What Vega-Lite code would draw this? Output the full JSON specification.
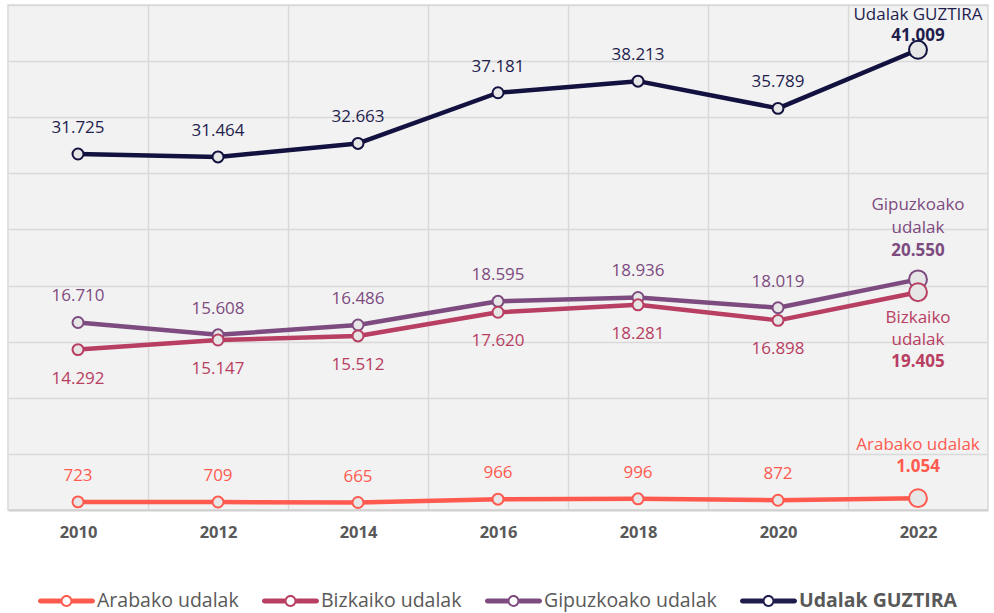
{
  "$schema": "https://vega.github.io/schema/vega-lite/v6.json",
  "width": 980,
  "height": 505,
  "autosize": {"type": "none"},
  "padding": {"left": 8, "top": 5, "right": 6, "bottom": 103},
  "background": "white",
  "config": {
    "locale": {"number": {"decimal": ",", "thousands": ".", "grouping": [3], "currency": ["", " €"]}},
    "view": {"fill": "#f2f2f2", "stroke": "#d9d9d9", "strokeWidth": 1.5},
    "font": "Open Sans",
    "text": {"font": "Open Sans", "fontSize": 17},
    "lineBreak": "\n"
  },
  "datasets": {
    "d": [
      {"year": 2010, "serie": "Udalak GUZTIRA", "value": 31725},
      {"year": 2012, "serie": "Udalak GUZTIRA", "value": 31464},
      {"year": 2014, "serie": "Udalak GUZTIRA", "value": 32663},
      {"year": 2016, "serie": "Udalak GUZTIRA", "value": 37181},
      {"year": 2018, "serie": "Udalak GUZTIRA", "value": 38213},
      {"year": 2020, "serie": "Udalak GUZTIRA", "value": 35789},
      {"year": 2022, "serie": "Udalak GUZTIRA", "value": 41009},
      {"year": 2010, "serie": "Gipuzkoako udalak", "value": 16710},
      {"year": 2012, "serie": "Gipuzkoako udalak", "value": 15608},
      {"year": 2014, "serie": "Gipuzkoako udalak", "value": 16486},
      {"year": 2016, "serie": "Gipuzkoako udalak", "value": 18595},
      {"year": 2018, "serie": "Gipuzkoako udalak", "value": 18936},
      {"year": 2020, "serie": "Gipuzkoako udalak", "value": 18019},
      {"year": 2022, "serie": "Gipuzkoako udalak", "value": 20550},
      {"year": 2010, "serie": "Bizkaiko udalak", "value": 14292},
      {"year": 2012, "serie": "Bizkaiko udalak", "value": 15147},
      {"year": 2014, "serie": "Bizkaiko udalak", "value": 15512},
      {"year": 2016, "serie": "Bizkaiko udalak", "value": 17620},
      {"year": 2018, "serie": "Bizkaiko udalak", "value": 18281},
      {"year": 2020, "serie": "Bizkaiko udalak", "value": 16898},
      {"year": 2022, "serie": "Bizkaiko udalak", "value": 19405},
      {"year": 2010, "serie": "Arabako udalak", "value": 723},
      {"year": 2012, "serie": "Arabako udalak", "value": 709},
      {"year": 2014, "serie": "Arabako udalak", "value": 665},
      {"year": 2016, "serie": "Arabako udalak", "value": 966},
      {"year": 2018, "serie": "Arabako udalak", "value": 996},
      {"year": 2020, "serie": "Arabako udalak", "value": 872},
      {"year": 2022, "serie": "Arabako udalak", "value": 1054}
    ],
    "ends": [
      {"year": 2022, "serie": "Udalak GUZTIRA", "value": 41009, "name": "Udalak GUZTIRA"},
      {"year": 2022, "serie": "Gipuzkoako udalak", "value": 20550, "name": "Gipuzkoako\nudalak"},
      {"year": 2022, "serie": "Bizkaiko udalak", "value": 19405, "name": "Bizkaiko\nudalak"},
      {"year": 2022, "serie": "Arabako udalak", "value": 1054, "name": "Arabako udalak"}
    ]
  },
  "data": {"name": "d"},
  "encoding": {
    "x": {
      "field": "year", "type": "quantitative",
      "scale": {"domain": [2009, 2023], "nice": false, "zero": false},
      "axis": {
        "values": [2010, 2011, 2012, 2013, 2014, 2015, 2016, 2017, 2018, 2019, 2020, 2021, 2022],
        "labelExpr": "datum.value % 2 === 0 ? '' + datum.value : ''",
        "grid": true,
        "gridColor": {"condition": {"test": "datum.value % 2 === 1", "value": "#d9d9d9"}, "value": "transparent"},
        "gridWidth": 1.5,
        "ticks": false,
        "domainColor": "#d0d0d0",
        "domainWidth": 2,
        "labelFontSize": 16.5,
        "labelFontWeight": "bold",
        "labelColor": "#595959",
        "labelPadding": 14,
        "labelFont": "Open Sans",
        "title": null
      }
    },
    "y": {
      "field": "value", "type": "quantitative",
      "scale": {"domain": [0, 45000], "nice": false},
      "axis": {
        "values": [5000, 10000, 15000, 20000, 25000, 30000, 35000, 40000, 45000],
        "grid": true, "gridColor": "#d9d9d9", "gridWidth": 1.5,
        "labels": false, "ticks": false, "domain": false, "title": null
      }
    }
  },
  "layer": [
    {
      "mark": {"type": "line", "strokeWidth": 4.5, "strokeCap": "round", "strokeJoin": "round"},
      "encoding": {
        "color": {
          "field": "serie", "type": "nominal",
          "scale": {"domain": ["Arabako udalak", "Bizkaiko udalak", "Gipuzkoako udalak", "Udalak GUZTIRA"], "range": ["#ff5a50", "#b83e62", "#7d4b7f", "#12113f"]},
          "sort": ["Arabako udalak", "Bizkaiko udalak", "Gipuzkoako udalak", "Udalak GUZTIRA"],
          "legend": {
            "orient": "none", "legendX": 30, "legendY": 567.5,
            "direction": "horizontal", "title": null,
            "symbolType": "M-0.2,-0.09H-0.91A0.09,0.09 0 0,0 -0.91,0.09H-0.2Z M0.91,-0.09H0.2V0.09H0.91A0.09,0.09 0 0,0 0.91,-0.09Z M0.21,0A0.21,0.21 0 1,0 -0.21,0A0.21,0.21 0 1,0 0.21,0Z M0.14,0A0.14,0.14 0 1,1 -0.14,0A0.14,0.14 0 1,1 0.14,0Z",
            "symbolSize": 3249,
            "symbolStrokeWidth": 0,
            "labelFontSize": 19.5,
            "labelColor": "#595959",
            "labelFont": "Open Sans",
            "labelOffset": 2,
            "labelLimit": 400,
            "gridAlign": "none",
            "columnPadding": 22,
            "padding": 0,
            "encode": {
              "symbols": {"update": {"fill": {"scale": "color", "field": "value"}, "stroke": {"value": "transparent"}, "opacity": {"value": 1}}},
              "labels": {"update": {"fontWeight": {"signal": "datum.value === 'Udalak GUZTIRA' ? 'bold' : 'normal'"}}}
            }
          }
        }
      }
    },
    {
      "mark": {"type": "point", "filled": true, "fill": "#e6e6e6", "strokeWidth": 2, "opacity": 1},
      "encoding": {
        "stroke": {
          "field": "serie", "type": "nominal",
          "scale": {"domain": ["Arabako udalak", "Bizkaiko udalak", "Gipuzkoako udalak", "Udalak GUZTIRA"], "range": ["#ff5a50", "#b83e62", "#7d4b7f", "#12113f"]},
          "legend": null
        },
        "size": {"condition": {"test": "datum.year === 2022", "value": 320}, "value": 120}
      }
    },
    {
      "transform": [{"filter": "datum.year < 2022 && datum.serie !== 'Bizkaiko udalak'"}],
      "mark": {"type": "text", "dy": -26, "fontSize": 17},
      "encoding": {
        "text": {"field": "value", "type": "quantitative", "format": ",d"},
        "fill": {
          "field": "serie", "type": "nominal",
          "scale": {"domain": ["Arabako udalak", "Bizkaiko udalak", "Gipuzkoako udalak", "Udalak GUZTIRA"], "range": ["#ff5a50", "#b83e62", "#7d4b7f", "#1f1d4d"]},
          "legend": null
        }
      }
    },
    {
      "transform": [{"filter": "datum.year < 2022 && datum.serie === 'Bizkaiko udalak'"}],
      "mark": {"type": "text", "dy": 29, "fontSize": 17, "fill": "#b83e62"},
      "encoding": {
        "text": {"field": "value", "type": "quantitative", "format": ",d"}
      }
    },
    {
      "transform": [{"filter": "datum.year === 2022 && datum.serie === 'Udalak GUZTIRA'"}],
      "mark": {"type": "text", "dy": -14, "fontSize": 17, "fontWeight": "bold", "fill": "#1f1d4d"},
      "encoding": {"text": {"field": "value", "type": "quantitative", "format": ",d"}}
    },
    {
      "transform": [{"filter": "datum.year === 2022 && datum.serie === 'Gipuzkoako udalak'"}],
      "mark": {"type": "text", "dy": -28, "fontSize": 17, "fontWeight": "bold", "fill": "#7d4b7f"},
      "encoding": {"text": {"field": "value", "type": "quantitative", "format": ",d"}}
    },
    {
      "transform": [{"filter": "datum.year === 2022 && datum.serie === 'Bizkaiko udalak'"}],
      "mark": {"type": "text", "dy": 70, "fontSize": 17, "fontWeight": "bold", "fill": "#b83e62"},
      "encoding": {"text": {"field": "value", "type": "quantitative", "format": ",d"}}
    },
    {
      "transform": [{"filter": "datum.year === 2022 && datum.serie === 'Arabako udalak'"}],
      "mark": {"type": "text", "dy": -31, "fontSize": 17, "fontWeight": "bold", "fill": "#ff5a50"},
      "encoding": {"text": {"field": "value", "type": "quantitative", "format": ",d"}}
    },
    {
      "data": {"name": "ends"},
      "transform": [{"filter": "datum.serie === 'Udalak GUZTIRA'"}],
      "mark": {"type": "text", "dy": -35, "fontSize": 17, "fill": "#1f1d4d"},
      "encoding": {"text": {"field": "name", "type": "nominal"}}
    },
    {
      "data": {"name": "ends"},
      "transform": [{"filter": "datum.serie === 'Gipuzkoako udalak'"}],
      "mark": {"type": "text", "dy": -74, "fontSize": 17, "lineHeight": 23, "fill": "#7d4b7f", "lineBreak": "\n"},
      "encoding": {"text": {"field": "name", "type": "nominal"}}
    },
    {
      "data": {"name": "ends"},
      "transform": [{"filter": "datum.serie === 'Bizkaiko udalak'"}],
      "mark": {"type": "text", "dy": 26, "fontSize": 17, "lineHeight": 22, "fill": "#b83e62", "lineBreak": "\n"},
      "encoding": {"text": {"field": "name", "type": "nominal"}}
    },
    {
      "data": {"name": "ends"},
      "transform": [{"filter": "datum.serie === 'Arabako udalak'"}],
      "mark": {"type": "text", "dy": -53, "fontSize": 17, "fill": "#ff5a50"},
      "encoding": {"text": {"field": "name", "type": "nominal"}}
    }
  ]
}
